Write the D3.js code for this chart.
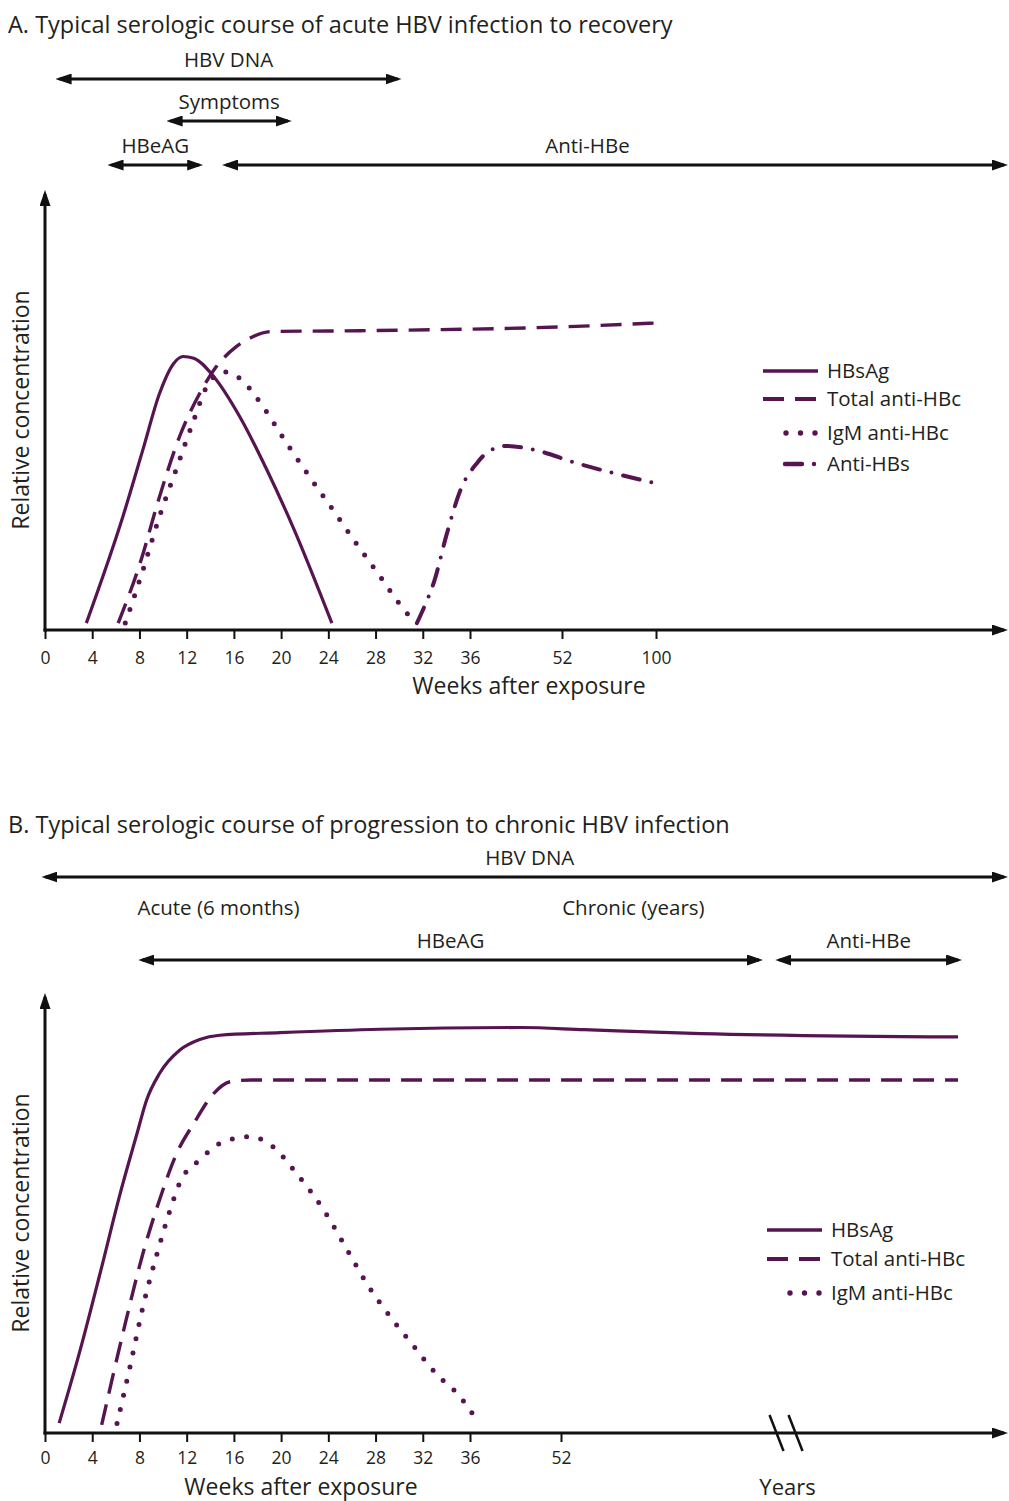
<!DOCTYPE html>
<html>
<head>
<meta charset="utf-8">
<script src="https://cdn.jsdelivr.net/npm/d3@7"></script>
<style>
  body { margin: 0; background: #fff; }
  text { font-family: "Open Sans", Lato, sans-serif; fill: #231f20; }
</style>
</head>
<body>
<svg id="chart" width="1009" height="1501"></svg>
<script>
// ---- data ----
const ticksA = [0, 4, 8, 12, 16, 20, 24, 28, 32, 36, 52, 100];
const ticksB = [0, 4, 8, 12, 16, 20, 24, 28, 32, 36, 52];

// [weeks after exposure, relative concentration]
const hbsagA = [[3.5, 1.6], [6.6, 26.4], [8.3, 42], [9.7, 55], [10.9, 62], [11.7, 63.6],
  [12.6, 63.2], [14.3, 58.9], [16.5, 49.6], [18.8, 37.2], [21, 24], [24.3, 1.6]];
const totalAntiHBcA = [[6.2, 1.6], [8.05, 15.5], [9.7, 31], [11.4, 45], [13.1, 55], [14.5, 61.2], [16.2, 65.9],
  [17.6, 68.2], [19.1, 69.4], [26.7, 69.6], [52, 70.5], [100, 71.4]];
const igmAntiHBcA = [[6.8, 1.6], [8.3, 14], [9.7, 26.4], [11.2, 38], [12.6, 48.8], [13.7, 56.6], [15.2, 60],
  [16.5, 58.5], [18.2, 53], [20.5, 43.3], [22.7, 34.5], [24.3, 28.3], [26.4, 20], [28.5, 12], [30.1, 5.8], [31.4, 1.5]];
const antiHBsA = [[31.5, 1.6], [32, 4.6], [33, 11.6], [34, 22], [35.2, 32.6], [37.2, 38.8], [39.2, 41.5],
  [42.4, 42.8], [47.1, 41.9], [59.5, 38.8], [100, 34.1]];

// panel B: weeks past 52 are drawn on the compressed "years" stretch of the axis
const hbsagB = [[1.2, 2.3], [3, 19.5], [4.7, 37.5], [6.35, 55.5], [7.8, 69.7], [8.6, 77.4], [9.7, 83.6],
  [11.4, 89], [13.1, 91.5], [14.8, 92.5], [19.9, 93.1], [28.4, 93.9], [45, 94.3], [56, 93.8],
  [76, 92.9], [120, 92.1]];
const totalAntiHBcB = [[4.8, 1.9], [6.6, 23.2], [8.3, 41.8], [9.7, 54.2], [11.15, 65], [12.6, 72], [14.3, 79],
  [15.7, 81.7], [17.5, 82.1], [28.4, 82.1], [120, 82.1]];
const igmAntiHBcB = [[6.1, 2.2], [7.2, 15.4], [8.3, 29.4], [9.5, 41.8], [10.6, 51.9], [11.4, 58.1], [13.1, 63.5],
  [15.1, 67.7], [17.4, 68.9], [19.3, 66.6], [21.3, 60.4], [23.6, 51.9], [25.6, 42.6], [27.2, 35], [28.6, 29.4],
  [31, 21], [33.1, 13.9], [35.2, 8.3], [37.2, 3]];

// timeline arrows above the plots (weeks; null = to end of axis)
const rangesA = [
  { label: 'HBV DNA', from: 0.9, to: 30.2, row: 0 },
  { label: 'Symptoms', from: 10.3, to: 20.9, row: 1 },
  { label: 'HBeAG', from: 5.3, to: 13.4, row: 2 },
  { label: 'Anti-HBe', from: 15, to: null, row: 2, labelAt: 65 }
];
const rangesB = [
  { label: 'HBV DNA', from: -0.3, to: null, row: 0, labelAt: 46.5 },
  { label: 'HBeAG', from: 7.9, to: 86.6, row: 1 },
  { label: 'Anti-HBe', from: 88.7, to: 120.7, row: 1 }
];
const phasesB = [{ label: 'Acute (6 months)', at: 14.7 }, { label: 'Chronic (years)', at: 64.4 }];

const seriesA = [
  { name: 'HBsAg', data: hbsagA, style: 'solid' },
  { name: 'Total anti-HBc', data: totalAntiHBcA, style: 'dashed' },
  { name: 'IgM anti-HBc', data: igmAntiHBcA, style: 'dotted' },
  { name: 'Anti-HBs', data: antiHBsA, style: 'dashdot' }
];
const seriesB = [
  { name: 'HBsAg', data: hbsagB, style: 'solid' },
  { name: 'Total anti-HBc', data: totalAntiHBcB, style: 'dashed' },
  { name: 'IgM anti-HBc', data: igmAntiHBcB, style: 'dotted' }
];

// ---- drawing ----
const purple = '#561550';
const styles = {
  solid:   { dash: null, width: 3.2, cap: 'butt', legendX: 0 },
  dashed:  { dash: '21,11', width: 3.4, cap: 'butt', legendX: 0 },
  dotted:  { dash: '0,14.5', width: 5, cap: 'round', legendX: 23 },
  dashdot: { dash: '17,12,0,12', width: 4, cap: 'round', legendX: 22 }
};

const svg = d3.select('#chart');

const defs = svg.append('defs');
defs.append('marker')
  .attr('id', 'arrow')
  .attr('viewBox', '0 0 16 11')
  .attr('markerUnits', 'userSpaceOnUse')
  .attr('markerWidth', 16).attr('markerHeight', 11)
  .attr('refX', 12).attr('refY', 5.5)
  .attr('orient', 'auto-start-reverse')
  .append('path').attr('d', 'M0,0 L16,5.5 L0,11 Z').attr('fill', '#111');

// line whose ends are arrow tips at x1/x2 (tip sits 4px past the line end)
function arrowLine(g, x1, y1, x2, y2, both, width) {
  const len = Math.hypot(x2 - x1, y2 - y1), ux = (x2 - x1) / len, uy = (y2 - y1) / len;
  const s = both ? 4 : 0;
  g.append('line')
    .attr('x1', x1 + ux * s).attr('y1', y1 + uy * s)
    .attr('x2', x2 - ux * 4).attr('y2', y2 - uy * 4)
    .attr('stroke', '#111').attr('stroke-width', width || 3)
    .attr('marker-end', 'url(#arrow)')
    .attr('marker-start', both ? 'url(#arrow)' : null);
}

function drawPanel(cfg) {
  const g = svg.append('g');
  const x = d3.scaleLinear().domain(cfg.xDomain).range(cfg.xRange);
  const y = d3.scaleLinear().domain([0, 100]).range([cfg.base, cfg.base - 430]);

  g.append('text').attr('x', 8).attr('y', cfg.titleY)
    .style('font-size', '23.5px').text(cfg.title);

  // timeline arrows
  cfg.ranges.forEach(r => {
    const yy = cfg.rowY[r.row];
    const x1 = x(r.from), x2 = r.to === null ? cfg.axisEnd : x(r.to);
    arrowLine(g, x1, yy, x2, yy, true, 3);
    const lx = r.labelAt !== undefined ? x(r.labelAt) : (x1 + x2) / 2;
    g.append('text').attr('x', lx).attr('y', yy - cfg.labelGap)
      .attr('text-anchor', 'middle').style('font-size', '20.5px').text(r.label);
  });
  (cfg.phases || []).forEach(p => {
    g.append('text').attr('x', x(p.at)).attr('y', cfg.phaseY)
      .attr('text-anchor', 'middle').style('font-size', '20.5px').text(p.label);
  });

  // axes
  const ax = g.append('g').attr('transform', `translate(0,${cfg.base})`)
    .call(d3.axisBottom(x).tickValues(cfg.ticks).tickSize(9).tickPadding(cfg.tickPad));
  ax.select('.domain').remove();
  ax.selectAll('.tick line').attr('stroke', '#111').attr('stroke-width', 2);
  ax.selectAll('.tick text').style('font-size', '17.5px').style('font-family', '"Open Sans", sans-serif').attr('fill', '#231f20');

  arrowLine(g, 43.5, cfg.base, cfg.axisEnd, cfg.base, false, 3);
  arrowLine(g, 45, cfg.base + 1.5, 45, cfg.base - 440, false, 3);

  if (cfg.breakAt !== undefined) {
    const bx = x(cfg.breakAt);
    [-11, 8].forEach(off => {
      g.append('line')
        .attr('x1', bx + off - 7).attr('y1', cfg.base - 18)
        .attr('x2', bx + off + 7).attr('y2', cfg.base + 18)
        .attr('stroke', '#111').attr('stroke-width', 2.5);
    });
    g.append('text').attr('x', bx).attr('y', cfg.xTitleY)
      .attr('text-anchor', 'middle').style('font-size', '22px').text('Years');
  }

  g.append('text').attr('x', cfg.xTitleX).attr('y', cfg.xTitleY)
    .attr('text-anchor', 'middle').style('font-size', '23px').text('Weeks after exposure');
  g.append('text')
    .attr('transform', `translate(29,${cfg.base - 220}) rotate(-90)`)
    .attr('text-anchor', 'middle').style('font-size', '23px').text('Relative concentration');

  // curves
  const line = d3.line().x(d => x(d[0])).y(d => y(d[1])).curve(d3.curveMonotoneX);
  cfg.series.forEach(s => {
    const st = styles[s.style];
    g.append('path').datum(s.data)
      .attr('d', line)
      .attr('fill', 'none')
      .attr('stroke', purple)
      .attr('stroke-width', st.width)
      .attr('stroke-linecap', st.cap)
      .attr('stroke-dasharray', st.dash);
  });

  // legend
  cfg.series.forEach((s, i) => {
    const st = styles[s.style];
    const ly = cfg.legendY[i];
    g.append('line')
      .attr('x1', cfg.legendX + st.legendX).attr('x2', cfg.legendX + 55)
      .attr('y1', ly).attr('y2', ly)
      .attr('stroke', purple).attr('stroke-width', st.width + 0.4)
      .attr('stroke-linecap', st.cap).attr('stroke-dasharray', st.dash);
    g.append('text').attr('x', cfg.legendX + 64).attr('y', ly)
      .attr('dy', '0.35em').style('font-size', '20.5px').text(s.name);
  });
}

drawPanel({
  title: 'A. Typical serologic course of acute HBV infection to recovery',
  titleY: 33,
  xDomain: [0, 36, 52, 100], xRange: [45, 470, 562, 656],
  base: 630, axisEnd: 1008,
  ticks: ticksA, tickPad: 13,
  ranges: rangesA, rowY: [79, 121, 165], labelGap: 12,
  xTitleX: 529, xTitleY: 694,
  series: seriesA,
  legendX: 763, legendY: [371, 399, 433, 464]
});

drawPanel({
  title: 'B. Typical serologic course of progression to chronic HBV infection',
  titleY: 833,
  xDomain: [0, 36, 52, 120], xRange: [45, 470, 561, 958],
  base: 1433, axisEnd: 1008,
  ticks: ticksB, tickPad: 10,
  ranges: rangesB, rowY: [877, 960], labelGap: 12,
  phases: phasesB, phaseY: 915,
  xTitleX: 301, xTitleY: 1495,
  breakAt: 90.8,
  series: seriesB,
  legendX: 767, legendY: [1230, 1259, 1293]
});
</script>
</body>
</html>
